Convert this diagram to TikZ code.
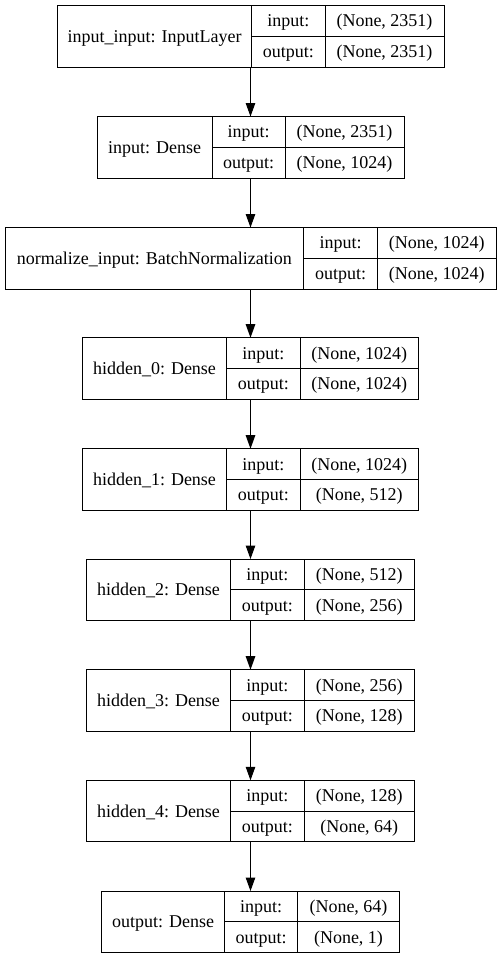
\documentclass[tikz,border=0pt]{standalone}
\usepackage{fontspec}
\setmainfont{Liberation Serif}
\usetikzlibrary{arrows.meta}
\tikzset{
  boxframe/.style={draw=black, line width=1pt, inner sep=0pt, outer sep=0pt, rectangle},
  cellline/.style={draw=black, line width=1pt},
  txt/.style={inner sep=0pt, anchor=base, font=\fontsize{18}{20}\selectfont, text=black},
  arr/.style={draw=black, line width=1pt, -{Triangle[length=13.5pt,width=9.5pt]}}
}
\newcommand\layerbox[9]{%
  \node[boxframe, anchor=north west, minimum width={(#5-#2)*1pt}, minimum height=61.5pt] (#1) at (#2,#6) {};
  \draw[cellline] (#3,#6) -- ++(0,61.5);
  \draw[cellline] (#4,#6) -- ++(0,61.5);
  \draw[cellline] (#3,{#6+30.75}) -- (#5,{#6+30.75});
  \node[txt] (#1-name) at ({(#2+#3)/2},{#6+30.75+6}) {#7};
  \node[txt] (#1-inl) at ({(#3+#4)/2},{#6+15.4+6}) {input:};
  \node[txt] (#1-outl) at ({(#3+#4)/2},{#6+46.1+6}) {output:};
  \node[txt] (#1-inv) at ({(#4+#5)/2},{#6+15.4+6}) {#8};
  \node[txt] (#1-outv) at ({(#4+#5)/2},{#6+46.1+6}) {#9};
}
\begin{document}
\begin{tikzpicture}[x=1pt,y=-1pt]
\useasboundingbox (0,0) rectangle (501,959);
\coordinate (ax) at (250.5,0);
\layerbox{L0}{57.5}{251.5}{325}{444}{5.5}{input\_input: InputLayer}{(None, 2351)}{(None, 2351)}
\layerbox{L1}{97}{212}{285}{404}{116.5}{input: Dense}{(None, 2351)}{(None, 1024)}
\layerbox{L2}{5}{303.5}{377.5}{496}{227.5}{normalize\_input: BatchNormalization}{(None, 1024)}{(None, 1024)}
\layerbox{L3}{82.5}{226.5}{300}{418.5}{337.7}{hidden\_0: Dense}{(None, 1024)}{(None, 1024)}
\layerbox{L4}{82.5}{226.5}{300}{418.5}{448.7}{hidden\_1: Dense}{(None, 1024)}{(None, 512)}
\layerbox{L5}{86.5}{230.5}{304}{414.5}{559}{hidden\_2: Dense}{(None, 512)}{(None, 256)}
\layerbox{L6}{86.5}{230.5}{304}{414.5}{669.7}{hidden\_3: Dense}{(None, 256)}{(None, 128)}
\layerbox{L7}{86.5}{230.5}{304}{414.5}{780.3}{hidden\_4: Dense}{(None, 128)}{(None, 64)}
\layerbox{L8}{101.5}{224.5}{297.5}{399.5}{891}{output: Dense}{(None, 64)}{(None, 1)}
\draw[arr] (L0.south -| ax) -- (L1.north -| ax);
\draw[arr] (L1.south -| ax) -- (L2.north -| ax);
\draw[arr] (L2.south -| ax) -- (L3.north -| ax);
\draw[arr] (L3.south -| ax) -- (L4.north -| ax);
\draw[arr] (L4.south -| ax) -- (L5.north -| ax);
\draw[arr] (L5.south -| ax) -- (L6.north -| ax);
\draw[arr] (L6.south -| ax) -- (L7.north -| ax);
\draw[arr] (L7.south -| ax) -- (L8.north -| ax);
\end{tikzpicture}
\end{document}
